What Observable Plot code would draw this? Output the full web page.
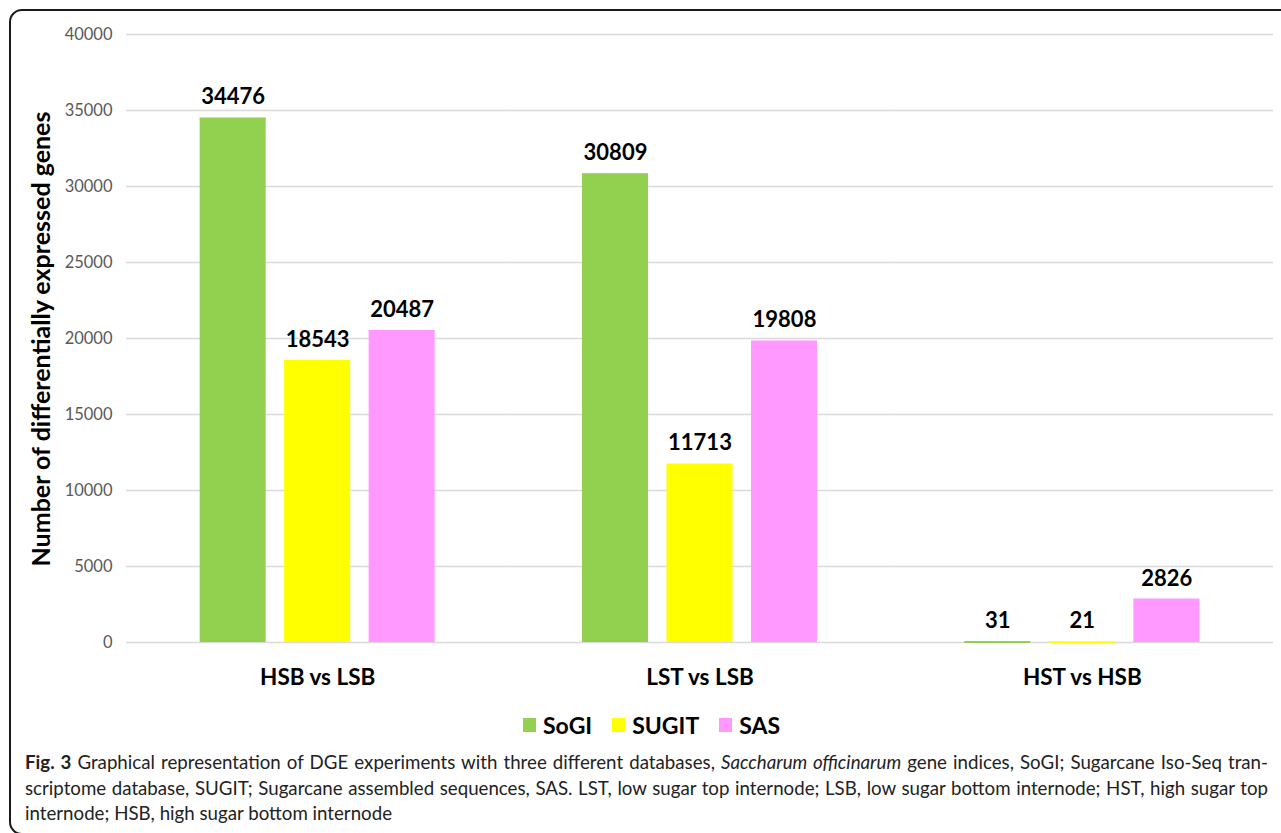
<!DOCTYPE html>
<html>
<head>
<meta charset="utf-8">
<script src="https://cdn.jsdelivr.net/npm/d3@7"></script>
<script src="https://cdn.jsdelivr.net/npm/@observablehq/plot@0.6"></script>
<style>
  html, body { margin: 0; padding: 0; background: #fff; width: 1281px; height: 833px; overflow: hidden; }
  #frame { position: absolute; left: 9px; top: 9px; width: 1400px; height: 826px; border: 2px solid #1a1a1a; border-radius: 13px; box-sizing: border-box; }
  #chart { position: absolute; left: 0; top: 0; }
  #ylabel { position: absolute; left: 40px; top: 339px; transform: translate(-50%, -50%) rotate(-90deg); white-space: nowrap; font-family: Lato, sans-serif; font-weight: bold; font-size: 25px; color: #000; }
  #legend { position: absolute; top: 711px; left: 523px; display: flex; align-items: center; font-family: Lato, sans-serif; font-weight: bold; font-size: 23px; color: #000; white-space: nowrap; }
  #legend .item { display: flex; align-items: center; margin-right: 20px; }
  #legend .sw { width: 13px; height: 14px; margin-right: 7px; }
  #caption { position: absolute; left: 25px; top: 750px; width: 1243px; font-family: Lato, sans-serif; font-size: 18.7px; line-height: 25.5px; color: #222; }
  #caption .j { text-align: justify; text-align-last: justify; white-space: nowrap; }
  #caption .l { white-space: nowrap; }
</style>
</head>
<body>
<div id="frame"></div>
<div id="chart"></div>
<div id="ylabel">Number of differentially expressed genes</div>
<div id="legend"></div>
<div id="caption">
  <div class="j"><b>Fig. 3</b> Graphical representation of DGE experiments with three different databases, <i>Saccharum officinarum</i> gene indices, SoGI; Sugarcane Iso-Seq tran-</div>
  <div class="j">scriptome database, SUGIT; Sugarcane assembled sequences, SAS. LST, low sugar top internode; LSB, low sugar bottom internode; HST, high sugar top</div>
  <div class="l">internode; HSB, high sugar bottom internode</div>
</div>
<script>
const groups = ["HSB vs LSB", "LST vs LSB", "HST vs HSB"];
const databases = ["SoGI", "SUGIT", "SAS"];
const sogi = [34476, 30809, 31];
const sugit = [18543, 11713, 21];
const sas = [20487, 19808, 2826];
const colors = ["#92d050", "#ffff00", "#ff99ff"];
const yTicks = [0, 5000, 10000, 15000, 20000, 25000, 30000, 35000, 40000];

const series = [sogi, sugit, sas];
const data = groups.flatMap((g, i) => databases.map((d, j) => ({group: g, db: d, value: series[j][i]})));

const chart = Plot.plot({
  width: 1281,
  height: 700,
  marginLeft: 126,
  marginRight: 8,
  marginTop: 34,
  marginBottom: 58,
  style: {fontFamily: "Lato, sans-serif", background: "transparent", overflow: "visible"},
  fx: {domain: groups, padding: 0, round: false, label: null},
  x: {domain: databases, paddingInner: 0.219, paddingOuter: 0.872, round: false, axis: null},
  y: {domain: [0, 40000], axis: null},
  color: {domain: databases, range: colors},
  marks: [
    Plot.gridY(yTicks, {stroke: "#d9d9d9", strokeOpacity: 1, strokeWidth: 1.5}),
    Plot.axisY(yTicks, {tickSize: 0, tickPadding: 14, fontSize: 16.5, fill: "#595959", label: null, tickFormat: d => String(d)}),
    Plot.axisFx({anchor: "bottom", tickSize: 0, tickPadding: 27, fontSize: 22.5, fontWeight: "bold", fill: "#000", label: null}),
    Plot.barY(data, {fx: "group", x: "db", y: "value", fill: "db"}),
    Plot.tickY(data, {fx: "group", x: "db", y: "value", stroke: "db", strokeWidth: 2}),
    Plot.text(data, {fx: "group", x: "db", y: "value", text: d => String(d.value), lineAnchor: "bottom", dy: -14, fontSize: 22, fontWeight: "bold", fill: "#000"})
  ]
});
document.getElementById("chart").appendChild(chart);

const legend = document.getElementById("legend");
databases.forEach((d, i) => {
  const item = document.createElement("div");
  item.className = "item";
  const sw = document.createElement("span");
  sw.className = "sw";
  sw.style.background = colors[i];
  const t = document.createElement("span");
  t.textContent = d;
  item.appendChild(sw);
  item.appendChild(t);
  legend.appendChild(item);
});
</script>
</body>
</html>
